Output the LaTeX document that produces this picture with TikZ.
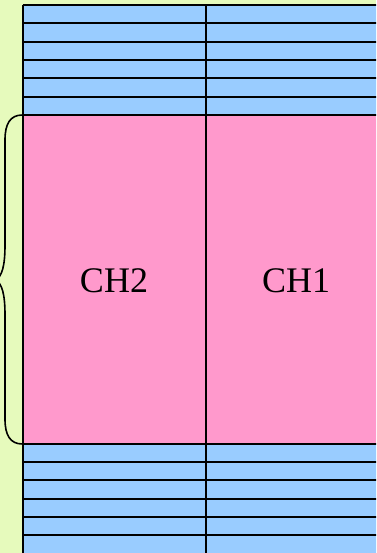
\documentclass[tikz,border=0pt]{standalone}
\usepackage{fontspec}
\setmainfont{Liberation Serif}
\definecolor{bggreen}{RGB}{230,250,188}
\definecolor{slotblue}{RGB}{153,204,255}
\definecolor{chpink}{RGB}{255,153,204}
\begin{document}
\begin{tikzpicture}[x=1pt,y=-1pt,
  gridline/.style={draw=black,line width=2pt},
  chlabel/.style={font=\fontsize{36}{40}\selectfont,text=black,inner sep=0pt}]
\useasboundingbox (0,0) rectangle (376,553);
\clip (0,0) rectangle (376,553);
\fill[bggreen] (0,0) rectangle (376,553);
% blue slot rows above and below the channel block
\fill[slotblue] (22.5,5) rectangle (380,115);
\fill[slotblue] (22.5,444) rectangle (380,560);
% pink channel block
\fill[chpink] (22.5,115) rectangle (380,444);
% horizontal row separators
\foreach \y in {5,23.3,41.7,60,78.3,96.7,115,444,462.2,480.4,498.6,516.8,535}
  \draw[gridline] (22.5,\y) -- (380,\y);
% vertical lines
\draw[gridline] (22.5,5) -- (22.5,560);
\draw[gridline] (206,5) -- (206,560);
% channel labels
\node[chlabel] (ch2) at (114,281) {CH2};
\node[chlabel] (ch1) at (296,281) {CH1};
% curly brace spanning the channel block
\draw[black,line width=1.6pt,line join=round]
  (22.5,115) .. controls (10,115) and (5,124) .. (5,140)
  -- (5,245) .. controls (5,266) and (2,276) .. (-4,280)
  .. controls (2,284) and (5,294) .. (5,315)
  -- (5,419) .. controls (5,435) and (10,444) .. (22.5,444);
\end{tikzpicture}
\end{document}
